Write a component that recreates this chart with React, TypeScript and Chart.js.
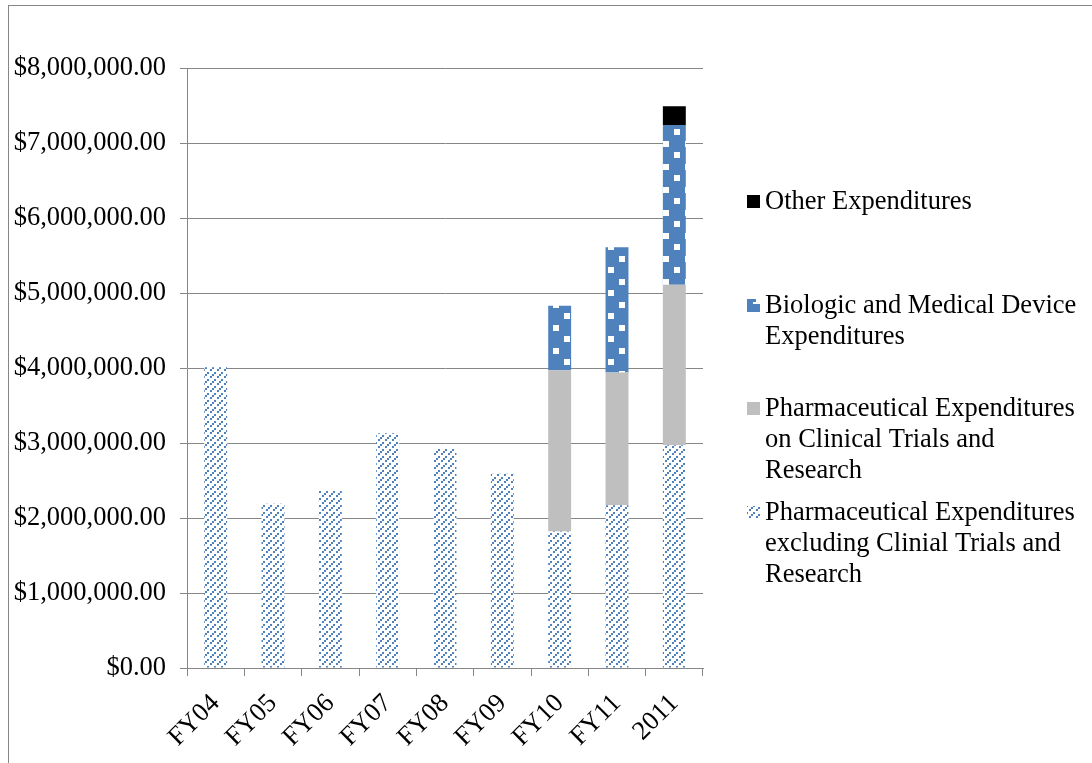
import React, { useEffect, useRef } from "react";
import { Chart, registerables } from "chart.js";

Chart.register(...registerables);

const categories = ["FY04", "FY05", "FY06", "FY07", "FY08", "FY09", "FY10", "FY11", "2011"];
const pharmaExcluding = [4010000, 2190000, 2360000, 3130000, 2930000, 2590000, 1820000, 2170000, 2970000];
const pharmaClinical = [0, 0, 0, 0, 0, 0, 2150000, 1770000, 2140000];
const biologicDevice = [0, 0, 0, 0, 0, 0, 860000, 1670000, 2130000];
const otherExp = [0, 0, 0, 0, 0, 0, 0, 0, 250000];

const legendItems = [
  { key: "other", lines: ["Other Expenditures"] },
  { key: "biologic", lines: ["Biologic and Medical Device", "Expenditures"] },
  { key: "clinical", lines: ["Pharmaceutical Expenditures", "on Clinical Trials and", "Research"] },
  { key: "excluding", lines: ["Pharmaceutical Expenditures", "excluding Clinial Trials and", "Research"] },
];

const BLUE = "#4F81BD";
const GRAY = "#BFBFBF";
const FONT = "'Liberation Serif', 'Times New Roman', serif";
const FS = 26.5;

function makeHatch(): CanvasPattern | string {
  const c = document.createElement("canvas");
  c.width = 7;
  c.height = 7;
  const g = c.getContext("2d");
  if (!g) return BLUE;
  g.fillStyle = "#ffffff";
  g.fillRect(0, 0, 7, 7);
  g.fillStyle = BLUE;
  g.fillRect(0, 5, 2, 2);
  g.fillRect(2, 3, 2, 2);
  g.fillRect(4, 1, 2, 2);
  const p = g.createPattern(c, "repeat");
  return p || BLUE;
}

function makeDots(): CanvasPattern | string {
  const c = document.createElement("canvas");
  c.width = 22;
  c.height = 23;
  const g = c.getContext("2d");
  if (!g) return BLUE;
  g.fillStyle = BLUE;
  g.fillRect(0, 0, 22, 23);
  g.fillStyle = "#ffffff";
  g.fillRect(3, 3, 6, 6);
  g.fillRect(14, 14, 6, 6);
  const p = g.createPattern(c, "repeat");
  return p || BLUE;
}

export default function App() {
  const ref = useRef<HTMLCanvasElement | null>(null);

  useEffect(() => {
    if (!ref.current) return;
    const hatch = makeHatch();
    const dots = makeDots();
    const swatches: Record<string, any> = {
      other: "#000000",
      biologic: BLUE,
      clinical: GRAY,
      excluding: hatch,
    };

    const legendPlugin = {
      id: "customLegend",
      afterDraw(chart: any) {
        const ctx = chart.ctx;
        ctx.save();
        ctx.font = `${FS}px ${FONT}`;
        ctx.textBaseline = "middle";
        ctx.fillStyle = "#000";
        const starts = [202, 306, 409, 513];
        legendItems.forEach((item, i) => {
          const y0 = starts[i];
          ctx.fillStyle = swatches[item.key];
          ctx.fillRect(747, y0 - 7, 13, 13);
          if (item.key === "biologic") {
            ctx.fillStyle = "#ffffff";
            ctx.fillRect(753, y0 - 7, 7, 5);
            ctx.fillStyle = BLUE;
            ctx.fillRect(753, y0 - 7, 3, 3);
          }
          ctx.fillStyle = "#000";
          item.lines.forEach((ln, j) => {
            ctx.fillText(ln, 765, y0 + j * 30.8);
          });
        });
        ctx.restore();
      },
    };

    const chart = new Chart(ref.current, {
      type: "bar",
      data: {
        labels: categories,
        datasets: [
          { label: "Pharmaceutical Expenditures excluding Clinial Trials and Research", data: pharmaExcluding, backgroundColor: hatch as any, borderWidth: 0 },
          { label: "Pharmaceutical Expenditures on Clinical Trials and Research", data: pharmaClinical, backgroundColor: GRAY, borderWidth: 0 },
          { label: "Biologic and Medical Device Expenditures", data: biologicDevice, backgroundColor: dots as any, borderWidth: 0 },
          { label: "Other Expenditures", data: otherExp, backgroundColor: "#000000", borderWidth: 0 },
        ],
      },
      options: {
        animation: false,
        responsive: false,
        devicePixelRatio: 1,
        layout: { padding: { left: 0, right: 389, top: 68, bottom: 0 } },
        datasets: { bar: { barPercentage: 0.4, categoryPercentage: 1 } },
        plugins: { legend: { display: false }, tooltip: { enabled: false } },
        scales: {
          x: {
            stacked: true,
            offset: true,
            grid: { display: true, drawOnChartArea: false, drawTicks: true, tickLength: 8, color: "#868686", offset: true },
            border: { display: true, color: "#868686", width: 1 },
            ticks: { color: "#000", font: { family: FONT, size: FS }, minRotation: 45, maxRotation: 45, padding: 12 },
            afterFit(scale: any) { scale.height = 95; },
          },
          y: {
            stacked: true,
            min: 0,
            max: 8000000,
            grid: { display: true, drawOnChartArea: true, drawTicks: true, tickLength: 7, color: "#868686" },
            border: { display: true, color: "#868686", width: 1 },
            ticks: {
              stepSize: 1000000,
              color: "#000",
              padding: 14,
              font: { family: FONT, size: FS },
              callback: (v: any) => "$" + Number(v).toLocaleString("en-US", { minimumFractionDigits: 2, maximumFractionDigits: 2 }),
            },
            afterFit(scale: any) { scale.width = 187; },
          },
        },
      },
      plugins: [legendPlugin],
    });
    return () => chart.destroy();
  }, []);

  return (
    <div style={{ position: "fixed", left: 0, top: 0, width: 1092, height: 763, background: "#fff", overflow: "hidden" }}>
      <canvas ref={ref} width={1092} height={763} style={{ position: "absolute", left: 0, top: 0, width: 1092, height: 763 }} />
      <div style={{ position: "absolute", left: 8, top: 5, width: 1200, height: 800, border: "1px solid #868686", pointerEvents: "none" }} />
    </div>
  );
}
